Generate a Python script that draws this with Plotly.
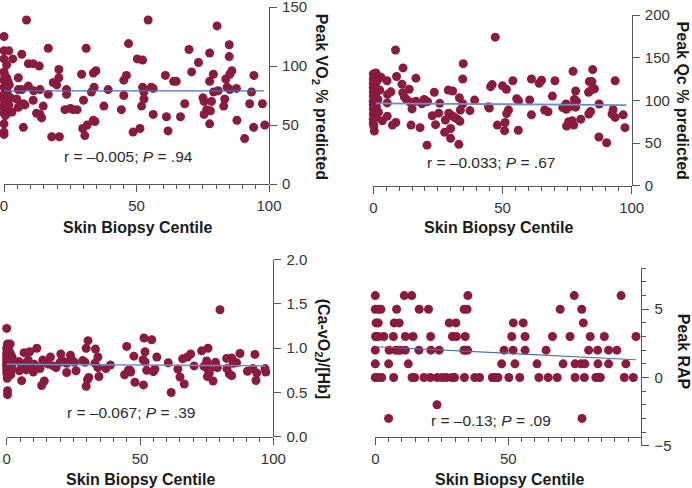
import plotly.graph_objects as go

# ---------------- data ----------------
# Panel A: Peak VO2 % predicted vs skin biopsy centile
vo2_x = [8.5, 54.4, 80.4, 0, 47, 85, 31, 16.7, 69.8, 77.6, 0, 1.8, 6.7, 85, 50.3, 52.3, 0, 3.3, 73.4,
         9.2, 11, 13.3, 1, 20.7, 34.7, 33.7, 86, 85.2, 29.3, 46.2, 60.9, 94.3, 79, 70.8, 5.4, 20.7, 45.2,
         83.7, 64, 65, 77.6, 18.6, 19.9, 9.2, 5.4, 6.7, 13.6, 11.2, 23.6, 23.6, 34, 33, 39.3, 52.3, 52.8,
         55.6, 56.3, 84.2, 85.2, 87.7, 79.1, 80.8, 93.4, 16.7, 45.2, 4.8, 30, 11, 52.8, 75.1, 75.5,
         78.3, 83.3, 68.2, 92.7, 97.5, 7.9, 7.3, 14.8, 51.9, 82.9, 37.7, 5.4, 25.1, 26.1, 27.6, 23,
         44.3, 76.5, 77.9, 12.3, 13.6, 14.2, 56.3, 61.3, 66.6, 75.5, 33.7, 34.3, 87.9, 0, 77.6, 7.3,
         31.4, 29.7, 51.3, 94.2, 98.4, 61.9, 48.7, 0, 0, 18, 20.9, 30.5, 90.8,
         0, 0.3, 1, 0, 0.5, 1.5, 2, 0, 0.8, 1.2, 0, 0.4, 2.5, 0, 1, 0.2, 1.8, 0, 0.6, 1.4, 0, 2.2, 0.5, 3]
vo2_y = [139, 139, 134, 125, 119, 118, 115, 115, 114, 111, 113, 113, 110, 108, 106, 105, 106, 106, 103,
         102, 102, 100, 101, 97, 96, 94, 96, 93, 93, 92, 92, 92, 93, 95, 90, 90, 88,
         89, 87, 87, 87, 86, 84, 83, 80, 80, 80, 79, 80, 76, 82, 78, 80, 82, 78,
         82, 81, 82, 80, 81, 78, 79, 78, 76, 75, 72, 71, 71, 72, 73, 70,
         70, 72, 68, 68, 68, 67, 68, 66, 66, 66, 66, 65, 64, 63, 63, 63,
         63, 63, 62, 60, 59, 56, 59, 57, 57, 59, 54, 53, 54, 51, 51, 48,
         50, 47, 47, 48, 50, 45, 44, 44, 42, 40, 40, 41, 38.5,
         95, 92, 90, 88, 86, 87, 84, 82, 80, 78, 76, 74, 73, 72, 70, 68, 67, 65, 63, 62, 60, 61, 58, 61]
vo2_fit_x = [0, 98]
vo2_fit_y = [79, 79]

# Panel B: Peak Qc % predicted
qc_x = [47.2, 8.6, 34.8, 11.5, 77.3, 84.9, 9, 16.5, 34.6, 61.2, 65.1, 64.2, 70.3, 54, 93.6, 83.6, 84.6,
        5.3, 46, 45.4, 11.1, 23.6, 50, 51.5, 13.9, 29, 30.7, 85.6, 83.3, 84.3, 78.3, 6.8, 5.5, 11.4, 12,
        69.3, 33.3, 55.5, 56.2, 60.5, 77.8, 78.6, 39.2, 19.7, 21, 16.5, 12.8, 14.2, 5.4, 25.7, 18.8,
        34.6, 87.4, 74.6, 75.9, 73.3, 74.7, 44.6, 44.9, 52.3, 51.6, 66.3, 67.6, 15, 33.7, 37.4, 78.3,
        83.4, 84.1, 92.8, 92.4, 93.6, 96.7, 29.2, 30.5, 31.4, 22.8, 25.3, 61.2, 5.4, 80.3, 27.9, 32.6,
        33.5, 75.6, 77, 8.7, 7.4, 24.1, 51, 48, 14.6, 74.8, 77.6, 18.1, 97.4, 29.9, 27.6, 50.8, 56.1,
        0.4, 29.9, 87.3, 90.3, 20.8, 33.1,
        0, 0.5, 1, 2, 3, 0, 1.5, 0, 0.8, 0, 2.5, 0, 1, 0, 0.5, 1.8, 0, 0.3, 0, 1.2, 0, 0.6, 2, 0, 0.4,
        1, 0, 3.5, 0, 0.2]
qc_y = [174, 159, 143, 138, 134, 136, 128, 126, 125, 125, 123.5, 120, 123, 123, 123, 122, 122,
        123, 118.5, 116, 119, 109.5, 117, 113, 113, 112, 111, 113.5, 109.5, 112, 111, 110, 107, 109, 104,
        105, 103, 102, 99.5, 100.5, 101, 99, 100.3, 101, 98.5, 99, 101, 98, 97, 96.5, 96,
        96, 95.7, 95.7, 92.5, 91.5, 89.5, 92.5, 91, 88.7, 84.5, 88.7, 86.7, 90, 88.7, 88, 92,
        84, 87, 89, 84, 80, 83, 85, 82, 80, 82, 85, 83, 81.5, 78, 77, 78,
        75.5, 75, 76, 74, 71, 71.5, 74, 71, 71, 70, 71, 68, 68, 67, 62.5, 64.5, 65,
        64, 55.5, 57, 50.3, 47.5, 48.5,
        131, 130, 132, 128, 127, 125, 123, 120, 118, 115, 112, 110, 108, 105, 103, 101, 99, 97, 95, 93,
        90, 88, 86, 84, 82, 80, 78, 76, 73, 70]
qc_fit_x = [1, 98]
qc_fit_y = [96.5, 94.5]

# Panel C: (Ca-vO2)/[Hb]
avo_x = [80, 0, 51.5, 54.4, 30.5, 0.3, 1.3, 45, 33.3, 29.8, 11.3, 75.5, 73.1, 51.9, 87.5, 93.1, 6.5, 8.6,
         20.3, 23.9, 69, 67.8, 16.4, 47.7, 84.4, 34.2, 56.3, 13.5, 14, 8.1, 51.2, 51.9, 66, 78.3, 75,
         82.5, 86.2, 85, 60.6, 4.5, 5.5, 6.5, 7.5, 8.8, 9.5, 10.3, 20, 21.3, 22.5, 24.4, 25.4, 28.5,
         29.4, 15.6, 17.5, 18.5, 11.3, 12.5, 33.1, 34.2, 38.9, 37.2, 45.6, 46.5, 44.2, 52.5, 55.6, 55,
         64.2, 70.3, 74, 75.2, 77.3, 79, 76, 82.6, 83.5, 84.4, 90.3, 92.3, 93.8, 96.9, 97.2, 26, 22.5,
         4.8, 7.3, 10, 34.6, 30.8, 30.3, 65, 75.3, 77.4, 93.5, 5.6, 14.1, 13.1, 48.1, 51.3, 66.6, 29.8,
         61.7, 0.3, 0.3, 46.3,
         0, 0.5, 1, 0, 1.5, 0, 0.8, 2, 0, 0.3, 1.2, 0, 2.5, 0.6, 0, 1.8, 0, 0.4, 1, 0, 2.2, 0.7, 0, 1.5, 0.2]
avo_y = [1.435, 1.224, 1.115, 1.096, 1.085, 1.047, 1.047, 1.02, 0.99, 1.0, 1.0, 1.0, 0.97, 0.96, 0.94,
         0.93, 0.95, 0.96, 0.935, 0.92, 0.935, 0.9, 0.9, 0.91, 0.89, 0.9, 0.9, 0.866, 0.84, 0.866, 0.87,
         0.845, 0.88, 0.84, 0.855, 0.885, 0.835, 0.83, 0.835, 0.85, 0.82, 0.8, 0.84, 0.81, 0.78, 0.82,
         0.84, 0.85, 0.83, 0.87, 0.84, 0.86, 0.84, 0.82, 0.8, 0.78, 0.79, 0.77, 0.83, 0.78, 0.81, 0.77,
         0.75, 0.73, 0.7, 0.75, 0.765, 0.735, 0.765, 0.8, 0.795, 0.77, 0.79, 0.78, 0.72, 0.77, 0.71,
         0.69, 0.74, 0.77, 0.72, 0.77, 0.73, 0.745, 0.725, 0.745, 0.755, 0.73, 0.68, 0.67, 0.645, 0.675,
         0.68, 0.63, 0.635, 0.633, 0.63, 0.578, 0.615, 0.585, 0.595, 0.57, 0.5, 0.52, 0.475, 0.75,
         1.0, 0.98, 0.96, 0.95, 0.93, 0.92, 0.9, 0.9, 0.88, 0.87, 0.86, 0.85, 0.85, 0.84, 0.82, 0.82, 0.8,
         0.79, 0.78, 0.76, 0.76, 0.74, 0.72, 0.7, 0.66]
avo_fit_x = [0, 97]
avo_fit_y = [0.82, 0.80]

# Panel D: Peak RAP
rap_x = [0, 10.9, 13.7, 34.8, 74.8, 92.4,
         0, 1.2, 2.1, 8, 16.5, 20, 33.4, 34.5, 69.5, 77.6,
         0.3, 1.1, 7.1, 9, 27.8, 30.3, 51.9, 55.6, 78.2,
         0.1, 1.2, 3.2, 6.8, 11.3, 14.2, 20.8, 29, 30.5, 33.8, 51.3, 56.3, 66.6, 73.2, 80.8, 86.1, 98,
         0, 5.2, 7.6, 8.6, 9.5, 11.3, 16.4, 20.9, 24, 33.3, 33.9, 34.7, 48.4, 51.8, 56.3, 64.2, 80.2,
         83.6, 87.7, 90.8,
         0, 5, 12.4, 47.5, 52.5, 60.8, 70.6, 75.1, 77.3, 78.8, 83.7, 87.7, 94.2,
         0, 0.9, 2.4, 6.9, 13.8, 14.8, 18.3, 20.7, 23.3, 25.2, 26.8, 28.9, 29.8, 33.5, 37.4, 39.2, 44,
         45.1, 46.1, 50.2, 54.3, 61.5, 65, 68.4, 75.1, 78.6, 82.9, 84, 84.6, 93.6, 97,
         23.2, 5, 77.7]
rap_y = [6, 6, 6, 6, 6, 6,
         5, 5, 5, 5, 5, 5, 5, 5, 5, 5,
         4, 4, 4, 4, 4, 4, 4, 4, 4,
         3, 3, 3, 3, 3, 3, 3, 3, 3, 3, 3, 3, 3, 3, 3, 3, 3,
         2, 2, 2, 2, 2, 2, 2, 2, 2, 2, 2, 2, 2, 2, 2, 2, 2, 2, 2, 2,
         1, 1, 1, 1, 1, 1, 1, 1, 1, 1, 1, 1, 1,
         0, 0, 0, 0, 0, 0, 0, 0, 0, 0, 0, 0, 0, 0, 0, 0, 0,
         0, 0, 0, 0, 0, 0, 0, 0, 0, 0, 0, 0, 0, 0,
         -2, -3, -3]
rap_fit_x = [0, 98]
rap_fit_y = [2.25, 1.30]

stats_text = ["r = \u20130.005; <i>P</i> = .94", "r = \u20130.033; <i>P</i> = .67",
              "r = \u20130.067; <i>P</i> = .39", "r = \u20130.13; <i>P</i> = .09"]
y_titles = ["Peak VO<sub>2</sub> % predicted", "Peak Qc % predicted",
            "(Ca-vO<sub>2</sub>)/[Hb]", "Peak RAP"]
x_title = "Skin Biopsy Centile"

# ---------------- styling / layout ----------------
W, H = 692, 488
FONT = "Liberation Sans, Arial, Helvetica, sans-serif"
DOT = "#8B1A3F"
AX = "#555555"

def px_dom_x(a, b):
    return [a / W, b / W]

def px_dom_y(top, bot):
    return [1 - bot / H, 1 - top / H]

panels = [  # x0, x1, ytop, ybot, x-axis line y (pixels)
    (4, 269, 7, 184, 184),
    (373.3, 631.7, 15, 185.7, 185.7),
    (6.7, 273.3, 259.7, 436.7, 436.7),
    (375.3, 641.3, 268.3, 445.7, 437.3),
]

fig = go.Figure()
series = [(vo2_x, vo2_y, vo2_fit_x, vo2_fit_y, "#4f6fa8", 1.2),
          (qc_x, qc_y, qc_fit_x, qc_fit_y, "#6f8fc2", 1.8),
          (avo_x, avo_y, avo_fit_x, avo_fit_y, "#6f8fc2", 1.5),
          (rap_x, rap_y, rap_fit_x, rap_fit_y, "#4f6fa8", 1.2)]

for i, (sx, sy, fx, fy, lc, lw) in enumerate(series):
    xa = "x" if i == 0 else f"x{i+1}"
    ya = "y" if i == 0 else f"y{i+1}"
    fig.add_trace(go.Scatter(x=sx, y=sy, mode="markers", xaxis=xa, yaxis=ya,
                             marker=dict(size=9, color=DOT, line=dict(width=0)),
                             cliponaxis=False, showlegend=False, hoverinfo="skip"))
    fig.add_trace(go.Scatter(x=fx, y=fy, mode="lines", xaxis=xa, yaxis=ya,
                             line=dict(color=lc, width=lw), showlegend=False, hoverinfo="skip"))

common = dict(showgrid=False, zeroline=False, showline=True, linecolor=AX, linewidth=1.2,
              ticks="outside", ticklen=7, tickwidth=1.2, tickcolor=AX, ticklabeloverflow="allow",
              tickfont=dict(family=FONT, size=15, color="#333333"))

y_specs = [
    dict(range=[0, 150], tickvals=[0, 50, 100, 150]),
    dict(range=[0, 200], tickvals=[0, 50, 100, 150, 200]),
    dict(range=[0, 2.0], tickvals=[0, 0.5, 1.0, 1.5, 2.0], tickformat=".1f"),
    dict(range=[-5, 8], tickvals=[-5, 0, 5],
         minor=dict(dtick=1, tick0=0, ticks="outside", ticklen=4, tickcolor=AX, tickwidth=1)),
]
x_ticks = [[0, 50, 100], [0, 50, 100], [0, 50, 100], [0, 50]]

layout = dict(width=W, height=H, margin=dict(l=0, r=0, t=0, b=0, autoexpand=False),
              paper_bgcolor="white", plot_bgcolor="white", showlegend=False)

for i, (x0, x1, yt, yb, xline) in enumerate(panels):
    xk = "xaxis" if i == 0 else f"xaxis{i+1}"
    yk = "yaxis" if i == 0 else f"yaxis{i+1}"
    ya_anchor = "x" if i == 0 else f"x{i+1}"
    layout[xk] = dict(common, domain=px_dom_x(x0, x1), range=[0, 100], tickvals=x_ticks[i],
                      anchor="free", position=1 - xline / H, ticklabelstandoff=1,
                      minor=dict(dtick=5, tick0=0, ticks="outside", ticklen=4,
                                 tickcolor=AX, tickwidth=1))
    layout[yk] = dict(common, domain=px_dom_y(yt, yb), anchor=ya_anchor, side="right",
                      ticklabelstandoff=2, **y_specs[i])

fig.update_layout(**layout)

def ann(text, xpx, ypx, size, bold=False, angle=0, color="#222222"):
    fig.add_annotation(text=f"<b>{text}</b>" if bold else text, xref="paper", yref="paper",
                       x=xpx / W, y=1 - ypx / H, xanchor="center", yanchor="middle",
                       showarrow=False, textangle=angle,
                       font=dict(family=FONT, size=size, color=color))

stat_pos = [(128.7, 156.7), (491.3, 162.3), (130.8, 412.3), (491, 420.7)]
xt_pos = [(137, 227), (498.3, 227.7), (140.8, 479), (509, 479)]
yt_pos = [(320, 96.7), (682.7, 100.3), (323.3, 349), (684.3, 352)]

for i in range(4):
    ann(stats_text[i], *stat_pos[i], 15.5, color="#2a2a2a")
    ann(x_title, *xt_pos[i], 16, bold=True, color="#1a1a1a")
    ann(y_titles[i], *yt_pos[i], 16, bold=True, angle=90, color="#1a1a1a")

fig.write_html("out.html")
